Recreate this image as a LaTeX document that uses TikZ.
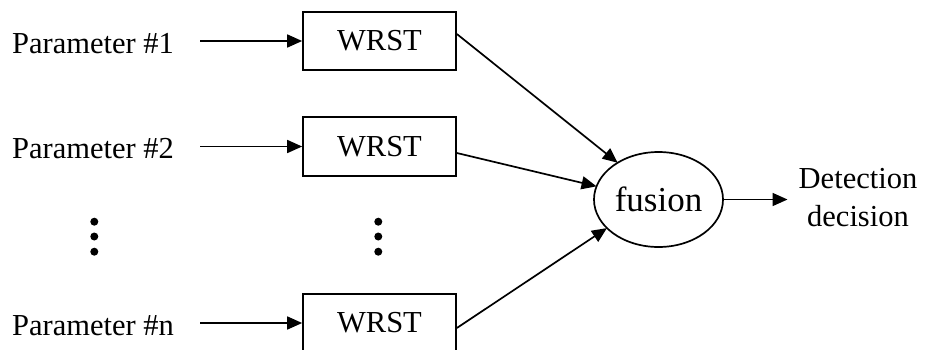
\documentclass[tikz,border=0pt]{standalone}
\usepackage{fontspec}
\setmainfont{Liberation Serif}
\usetikzlibrary{arrows.meta,shapes.geometric}
\begin{document}
\begin{tikzpicture}[x=1pt,y=-1pt,
  every node/.style={font=\fontsize{30.5}{38}\selectfont},
  box/.style={draw,line width=1.7pt,minimum width=153pt,minimum height=58.5pt,inner sep=0pt},
  lbl/.style={anchor=base west,inner sep=0pt},
  arr/.style={line width=1.7pt,-{Triangle[length=15pt,width=13pt]}},
  dotmark/.style={circle,fill,inner sep=0pt,minimum size=8pt}]
\useasboundingbox (0,0) rectangle (927,349);
\clip (0,0) rectangle (927,349);
% labels
\node[lbl] (p1) at (12,53) {Parameter \#1};
\node[lbl] (p2) at (12,158.5) {Parameter \#2};
\node[lbl] (pn) at (12,335) {Parameter \#n};
% boxes
\node[box] (b1) at (379.5,41) {WRST};
\node[box] (b2) at (379.5,146.5) {WRST};
\node[box] (bn) at (379.5,323) {WRST};
% fusion
\node[draw,ellipse,line width=1.7pt,minimum width=129pt,minimum height=95pt,inner sep=0pt,outer sep=0pt,font=\fontsize{35}{40}\selectfont] (fus) at (658.5,199.5) {fusion};
% decision
\node[align=center,inner xsep=11pt,inner ysep=0pt] (det) at (858,198) {Detection\\decision};
% dots
\node[dotmark] (l1) at (94.3,221.7) {};
\node[dotmark] (l2) at (94.3,236.5) {};
\node[dotmark] (l3) at (94.3,251.7) {};
\node[dotmark] (r1) at (378.3,221.7) {};
\node[dotmark] (r2) at (378.3,236.5) {};
\node[dotmark] (r3) at (378.3,251.7) {};
% input arrows
\draw[arr] ([xshift=26pt]p1.east |- b1.west) -- (b1.west);
\draw[arr] ([xshift=26pt]p2.east |- b2.west) -- (b2.west);
\draw[arr] ([xshift=26pt]pn.east |- bn.west) -- (bn.west);
% to fusion
\draw[arr] ([yshift=7pt]b1.east) -- (fus.138);
\draw[arr] ([yshift=-6.5pt]b2.east) -- (fus.168.5);
\draw[arr] ([yshift=-5pt]bn.east) -- (fus.209.6);
% output
\draw[arr] (fus.east) -- (fus.east -| det.west);
\end{tikzpicture}
\end{document}
